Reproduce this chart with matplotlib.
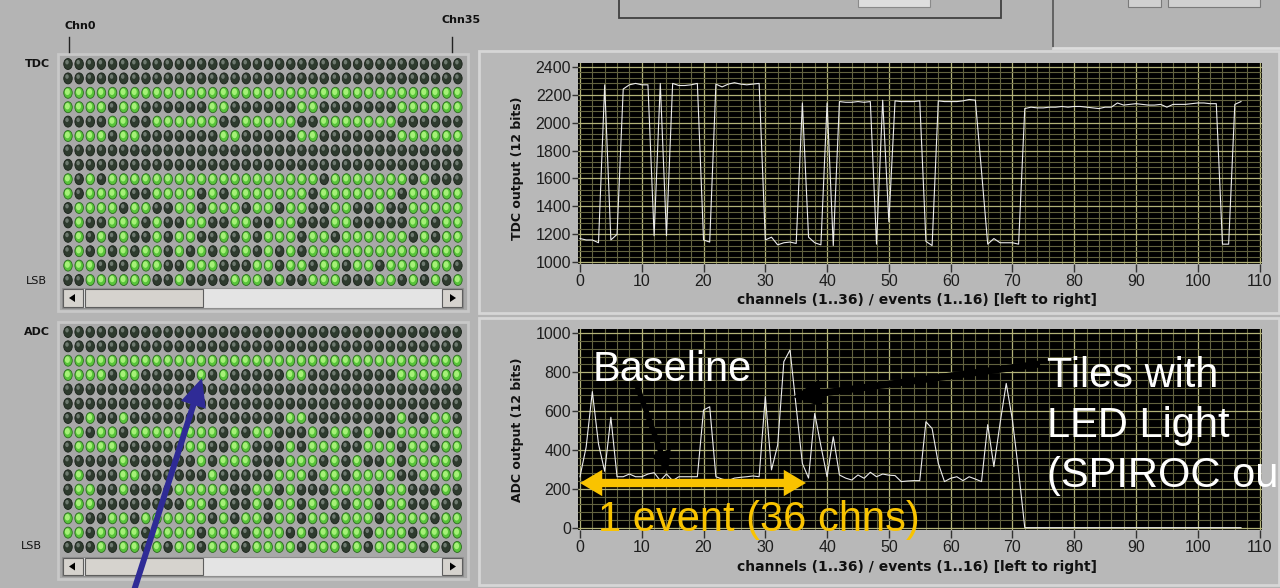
import matplotlib.pyplot as plt
from matplotlib.patches import Rectangle, Ellipse, FancyArrowPatch, Polygon
from matplotlib.ticker import MultipleLocator

W, H = 1280, 588

# 36 channels x 3 events
channels = list(range(108))

tdc_output = [1170, 1160, 1160, 1140, 2270, 1160, 1200, 2240, 2270, 2280,
              2270, 2270, 1190, 2280, 1190, 2280, 2265, 2265, 2270, 2280,
              1160, 1145, 2275, 2255, 2275, 2285, 2275, 2270, 2275, 2280,
              1160, 1180, 1125, 1140, 1145, 1135, 2140, 1180, 1140, 1125,
              2140, 1120, 2150, 2145, 2145, 2150, 2145, 2150, 1130, 2160,
              1290, 2155, 2150, 2150, 2150, 2155, 1150, 1120, 2155, 2150,
              2150, 2150, 2155, 2165, 2160, 1650, 1130, 1170, 1140, 1140,
              1140, 1130, 2100, 2110, 2105, 2105, 2110, 2110, 2115, 2110,
              2115, 2115, 2110, 2105, 2100, 2110, 2110, 2140, 2125, 2130,
              2135, 2130, 2125, 2125, 2130, 2110, 2130, 2130, 2130, 2135,
              2140, 2140, 2135, 2135, 1130, 1130, 2130, 2150]

adc_output = [262, 415, 700, 430, 290, 568, 262, 262, 276, 262,
              262, 276, 283, 242, 276, 242, 262, 262, 262, 262,
              605, 622, 262, 250, 242, 255, 259, 262, 266, 262,
              674, 297, 425, 854, 914, 620, 330, 255, 588, 420,
              262, 468, 271, 255, 245, 271, 254, 285, 262, 276,
              270, 268, 237, 240, 242, 242, 545, 510, 331, 237,
              254, 262, 242, 262, 250, 237, 530, 314, 537, 742,
              554, 290, 0, 0, 0, 0, 0, 0, 0, 0,
              0, 0, 0, 0, 0, 0, 0, 0, 0, 0,
              0, 0, 0, 0, 0, 0, 0, 0, 0, 0,
              0, 0, 0, 0, 0, 0, 0, 0]

x_ticks = [0, 10, 20, 30, 40, 50, 60, 70, 80, 90, 100, 110]
tdc_ticks = [1000, 1200, 1400, 1600, 1800, 2000, 2200, 2400]
adc_ticks = [0, 200, 400, 600, 800, 1000]

# bit display of event 1, MSB on top, 36 channels per row
tdc_bits = [
    "000000000000000000000000000000000000",
    "000000000000000000000000000000000000",
    "111111111111111111111111111111111111",
    "111101100000011000000110000000111111",
    "000011001111110011111001111111000000",
    "111101100000001100000110000000111111",
    "000000000000000000000000000000000000",
    "000000000000000000000000000000000000",
    "101011111111111111111110111111101000",
    "101111001111010111111101111111011111",
    "011110110011011101101100110010011111",
    "010011101001100110011000110000011011",
    "010101001011001010111011011111101011",
    "010101011010101010101011111111111111",
    "111000111001110001101101101101110110",
    "001111110010000111010011100011010101",
]

adc_bits = [
    "000000000000000000000000000000000000",
    "000000000000000000000000000000000000",
    "111111111111111111111111111111111111",
    "111101100000101000001100000000111111",
    "000000000000000000000000000000000000",
    "000000000000000000000000000000000000",
    "001001000000000000001100000000100110",
    "110110111111110101100010110100111111",
    "011110000001100110001011100111011011",
    "000001000000101110001110101001011110",
    "010001100000010000011101101111001111",
    "011001000011111001101000111101100010",
    "011000000001101001011010101101100100",
    "110011011111101011011011011101111011",
    "110111101111011101110101111011101111",
    "000101101011011101111011101011110101",
]

fig = plt.figure(figsize=(12.8, 5.88), dpi=100)
fig.patch.set_facecolor('#b4b4b4')


def frac(x0, y0, x1, y1):
    return [x0 / W, 1 - y1 / H, (x1 - x0) / W, (y1 - y0) / H]


bg = fig.add_axes([0, 0, 1, 1], zorder=0)
bg.set_xlim(0, W)
bg.set_ylim(H, 0)
bg.axis('off')

# top controls
bg.add_patch(Rectangle((619, -5), 382, 23, fc='#b4b4b4', ec='#404040', lw=1.3))
bg.add_patch(Rectangle((858, -2), 72, 9, fc='#dedede', ec='#8a8a8a', lw=0.8))
bg.plot([1053, 1053], [0, 48], color='#555555', lw=1.2)
bg.plot([1053, 1280], [48, 48], color='#dcdcdc', lw=2)
bg.add_patch(Rectangle((1128, -3), 33, 10, fc='#d0d0d0', ec='#7a7a7a', lw=0.8))
bg.add_patch(Rectangle((1168, -3), 92, 10, fc='#d0d0d0', ec='#7a7a7a', lw=0.8))

# graph panels
for y0, y1 in [(51, 313), (318, 585)]:
    bg.add_patch(Rectangle((479, y0), 800, y1 - y0, fc='#b8b8b8', ec='#d6d6d6', lw=2))


def scrollbar(y0, y1):
    mid = (y0 + y1) / 2
    bg.add_patch(Rectangle((62, y0), 401, y1 - y0, fc='#e4e4e4', ec='#8e8e8e', lw=0.8))
    for bx, bw in [(63, 20), (85, 118), (442, 20)]:
        bg.add_patch(Rectangle((bx, y0 + 1), bw, y1 - y0 - 2, fc='#d6d3ce', ec='#5e5e5e', lw=0.8))
    bg.add_patch(Polygon([[69, mid], [75, mid - 4], [75, mid + 4]], fc='black'))
    bg.add_patch(Polygon([[456, mid], [450, mid - 4], [450, mid + 4]], fc='black'))


def led_matrix(bits, x0, y0, dx, dy, frame):
    bg.add_patch(Rectangle((frame[0], frame[1]), frame[2] - frame[0], frame[3] - frame[1],
                           fc='#a8a8a8', ec='#c8c8c8', lw=2))
    for r, row in enumerate(bits):
        for c, bit in enumerate(row):
            cx = x0 + c * dx
            cy = y0 + r * dy
            if bit == '1':
                bg.add_patch(Ellipse((cx, cy), 8.5, 11, fc='#58c43a', ec='#2d6a20', lw=0.6))
                bg.add_patch(Ellipse((cx - 0.6, cy - 1.0), 5, 6.5, fc='#a6f078', ec='none'))
            else:
                bg.add_patch(Ellipse((cx, cy), 8.5, 11, fc='#2e3b2e', ec='#1a221a', lw=0.6))
                bg.add_patch(Ellipse((cx - 1.0, cy - 1.8), 3.5, 4.5, fc='#6e7a70', ec='none'))


led_matrix(tdc_bits, 68, 64, 11.14, 14.4, (58, 54, 468, 311))
scrollbar(288, 308)
led_matrix(adc_bits, 68, 332, 11.12, 14.33, (58, 322, 468, 579))
scrollbar(557, 576)

lab = dict(fontsize=8, fontweight='bold', color='#111111', ha='center', va='center')
bg.text(80, 26, 'Chn0', **lab)
bg.text(461, 20, 'Chn35', **lab)
bg.plot([69, 69], [37, 52], color='#222222', lw=1)
bg.plot([452, 452], [37, 52], color='#222222', lw=1)
bg.text(37, 64, 'TDC', **lab)
bg.text(37, 332, 'ADC', **lab)
bg.text(36, 281, 'LSB', fontsize=8, color='#111111', ha='center', va='center')
bg.text(31, 546, 'LSB', fontsize=8, color='#111111', ha='center', va='center')


def graph(box, values, ylim, yticks, ylabel, ylabel_y, xlabel_y):
    ax = fig.add_axes(frac(*box), zorder=2)
    ax.set_facecolor('black')
    ax.plot(channels, values, color='#ececec', lw=0.8)
    ax.set_xlim(-0.32, 110.4)
    ax.set_ylim(*ylim)
    ax.set_xticks(x_ticks)
    ax.set_yticks(yticks)
    ax.xaxis.set_minor_locator(MultipleLocator(2))
    ax.yaxis.set_minor_locator(MultipleLocator(40))
    ax.grid(which='minor', color='#62623f', lw=0.8)
    ax.grid(which='major', color='#b2b278', lw=0.9)
    ax.tick_params(which='minor', length=0)
    ax.tick_params(axis='x', which='major', direction='out', length=6, width=1,
                   color='#333333', labelsize=11.5, labelcolor='#1e1e1e', pad=1)
    ax.tick_params(axis='y', which='major', direction='out', length=4, width=1,
                   color='#333333', labelsize=11.5, labelcolor='#1e1e1e', pad=1)
    for t in ax.get_xticklabels() + ax.get_yticklabels():
        t.set_fontfamily('Liberation Sans')
    for s in ax.spines.values():
        s.set_visible(False)
    fig.text(518 / W, 1 - ylabel_y / H, ylabel, rotation=90, fontsize=9,
             fontweight='bold', color='#111111', ha='center', va='center')
    fig.text(917 / W, 1 - xlabel_y / H, 'channels (1..36) / events (1..16) [left to right]',
             fontsize=10, fontweight='bold', color='#111111', ha='center', va='center')
    return ax


graph((578, 63, 1262, 264), tdc_output, (988, 2426), tdc_ticks,
      'TDC output (12 bits)', 168, 300)
graph((578, 329, 1262, 530), adc_output, (-12, 1022), adc_ticks,
      'ADC output (12 bits)', 430, 567)

# slide annotations
ov = fig.add_axes([0, 0, 1, 1], zorder=10)
ov.set_xlim(0, W)
ov.set_ylim(H, 0)
ov.axis('off')
ov.patch.set_alpha(0)

yellow = '#f9c300'
for end in (580, 806):
    ov.add_patch(FancyArrowPatch((693, 483), (end, 483),
                                 arrowstyle='simple,head_length=1.6,head_width=1.9,tail_width=0.6',
                                 mutation_scale=10, color=yellow, lw=0, shrinkA=0, shrinkB=0))
ov.text(598, 531, '1 event (36 chns)', fontsize=30, color=yellow, family='Liberation Sans',
        ha='left', va='baseline')


def arrow(p0, p1, color, lw, hl, hw):
    ov.add_patch(FancyArrowPatch(p0, p1, arrowstyle=f'-|>,head_length={hl},head_width={hw}',
                                 mutation_scale=10, color=color, lw=lw, shrinkA=0, shrinkB=0,
                                 joinstyle='miter', capstyle='butt', clip_on=False))


ov.text(593, 381, 'Baseline', fontsize=30, color='white', family='Liberation Sans',
        ha='left', va='baseline')
arrow((636, 383), (668, 472), 'black', 3.8, 0.9, 0.45)

for i, line in enumerate(['Tiles with', 'LED Light', '(SPIROC ou']):
    ov.text(1047, 387 + 50 * i, line, fontsize=30, color='white', family='Liberation Sans',
            ha='left', va='baseline')
arrow((1040, 364), (793, 397), 'black', 5, 1.2, 0.6)

arrow((131, 600), (202, 378), '#2f2b96', 4.3, 1.3, 0.6)

fig.savefig('out.png', dpi=100, facecolor=fig.get_facecolor())
